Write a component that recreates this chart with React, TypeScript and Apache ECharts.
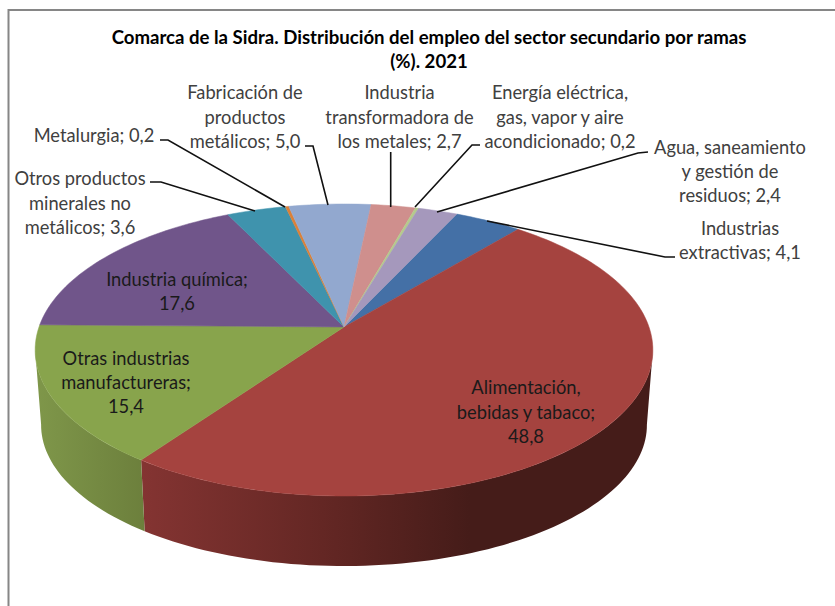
import React, { useEffect, useRef } from "react";
import * as echarts from "echarts";

const titleText = "Comarca de la Sidra. Distribución del empleo del sector secundario por ramas\n(%). 2021";

// Slices in drawing order, clockwise from the first slice's start angle
const categories = [
  "Industrias extractivas",
  "Alimentación, bebidas y tabaco",
  "Otras industrias manufactureras",
  "Industria química",
  "Otros productos minerales no metálicos",
  "Metalurgia",
  "Fabricación de productos metálicos",
  "Industria transformadora de los metales",
  "Energía eléctrica, gas, vapor y aire acondicionado",
  "Agua, saneamiento y gestión de residuos",
];
const values = [4.1, 48.8, 15.4, 17.6, 3.6, 0.2, 5.0, 2.7, 0.2, 2.4];
const colors = ["#4470A6", "#A5433F", "#88A44C", "#70558A", "#3F93AD", "#DB8038", "#92A8CF", "#CF8F8D", "#B5CA8C", "#A598BC"];
const labelTexts = [
  "Industrias\nextractivas; 4,1",
  "Alimentación,\nbebidas y tabaco;\n48,8",
  "Otras industrias\nmanufactureras;\n15,4",
  "Industria química;\n17,6",
  "Otros productos\nminerales no\nmetálicos; 3,6",
  "Metalurgia; 0,2",
  "Fabricación de\nproductos\nmetálicos; 5,0",
  "Industria\ntransformadora de\nlos metales; 2,7",
  "Energía eléctrica,\ngas, vapor y aire\nacondicionado; 0,2",
  "Agua, saneamiento\ny gestión de\nresiduos; 2,4",
];

// Layout, kept apart from the data
const labelCenters = [
  [740, 240], [526, 411.5], [126, 382], [177, 291], [80, 202.5],
  [94, 135], [245, 116.5], [399.5, 116.5], [560, 116.5], [730, 171],
];
const insideLabels = [1, 2, 3];
const leaders = [
  [[675, 257], [665, 257], [487, 221]],
  null,
  null,
  null,
  [[150, 182], [161, 182], [255, 211]],
  [[160, 140], [168, 140], [285, 207]],
  [[305, 146], [313, 146], [328, 205]],
  [[390.7, 152], [390.7, 207]],
  [[480, 145], [472, 145], [415, 207]],
  [[648, 152], [638, 153], [437, 212]],
];
const START_DEG = 25;
const FONT = "Lato, Carlito, Calibri, sans-serif";
const topDisc = { x0: 344, y0: 327, r: 305, h: 142.4, k: 0.1575 };
const bottomDisc = { x0: 344, y0: 402.5, r: 299, h: 137.4, k: 0.16 };
const SIDE_MIN = 99;
const SIDE_MAX = 261;
const sideFills: Record<number, any> = {
  1: new echarts.graphic.LinearGradient(141, 0, 470, 0, [
    { offset: 0, color: "#843432" },
    { offset: 0.55, color: "#642724" },
    { offset: 1, color: "#451C19" },
  ], true),
  2: new echarts.graphic.LinearGradient(35, 0, 146, 0, [
    { offset: 0, color: "#7F974A" },
    { offset: 1, color: "#6C7F3C" },
  ], true),
};

function project(d: typeof topDisc, deg: number) {
  const t = (deg * Math.PI) / 180;
  const u = Math.sin(t);
  const v = Math.cos(t);
  const w = 1 + d.k * v;
  return [d.x0 + (d.r * u) / w, d.y0 - (d.h * v) / w];
}

function arc(d: typeof topDisc, a: number, b: number) {
  const n = Math.max(2, Math.ceil(Math.abs(b - a) / 1.5));
  const pts: number[][] = [];
  for (let i = 0; i <= n; i++) pts.push(project(d, a + ((b - a) * i) / n));
  return pts;
}

const total = values.reduce((s, v) => s + v, 0);

function renderSlice(params: any, api: any) {
  const i = params.dataIndex;
  let before = 0;
  for (let j = 0; j < i; j++) before += values[j];
  const a = START_DEG + (before / total) * 360;
  const b = a + (api.value(0) / total) * 360;
  const children: any[] = [];
  const sa = Math.max(a, SIDE_MIN);
  const sb = Math.min(b, SIDE_MAX);
  if (sb > sa && sideFills[i]) {
    const pts = [...arc(topDisc, sa, sb), ...arc(bottomDisc, sa, sb).reverse()];
    children.push({
      type: "polygon",
      z2: 1,
      shape: { points: pts },
      style: { fill: sideFills[i], stroke: null },
    });
  }
  const top = [[topDisc.x0, topDisc.y0], ...arc(topDisc, a, b)];
  children.push({
    type: "polygon",
    z2: 2,
    shape: { points: top },
    style: { fill: colors[i], stroke: colors[i], lineWidth: 0.5 },
  });
  return { type: "group", children };
}

function renderLabel(params: any) {
  const i = params.dataIndex;
  const [x, y] = labelCenters[i];
  return {
    type: "text",
    z2: 5,
    style: {
      text: labelTexts[i],
      x,
      y,
      align: "center",
      verticalAlign: "middle",
      font: `18.3px ${FONT}`,
      lineHeight: 24.4,
      fill: insideLabels.includes(i) ? "#1A1A1A" : "#404040",
    },
  };
}

export default function App() {
  const ref = useRef<HTMLDivElement>(null);
  useEffect(() => {
    document.body.style.margin = "0";
    document.body.style.background = "#ffffff";
    const chart = echarts.init(ref.current!, undefined, { renderer: "svg" });
    const data = values.map((v, i) => ({ value: v, name: categories[i] }));
    const leaderEls = leaders.filter(Boolean).map((points) => ({
      type: "polyline",
      z: 10,
      shape: { points },
      style: { stroke: "#111111", lineWidth: 1.6, fill: null },
    }));
    chart.setOption({
      animation: false,
      backgroundColor: "#ffffff",
      title: {
        text: titleText,
        left: 424,
        top: 20,
        textAlign: "center",
        textStyle: { fontFamily: FONT, fontSize: 18.6, fontWeight: "bold", color: "#000000", lineHeight: 24 },
      },
      graphic: [
        {
          type: "polyline",
          z: 0,
          shape: { points: [[8.5, 606], [8.5, 10], [835, 10]] },
          style: { stroke: "#868686", lineWidth: 2, fill: null },
        },
        ...leaderEls,
      ],
      series: [
        { type: "custom", name: "Empleo", coordinateSystem: "none", renderItem: renderSlice, data, silent: true, z: 2 },
        { type: "custom", name: "Etiquetas", coordinateSystem: "none", renderItem: renderLabel, data, silent: true, z: 20 },
      ],
    });
    return () => chart.dispose();
  }, []);
  return <div ref={ref} style={{ width: 835, height: 606 }} />;
}
